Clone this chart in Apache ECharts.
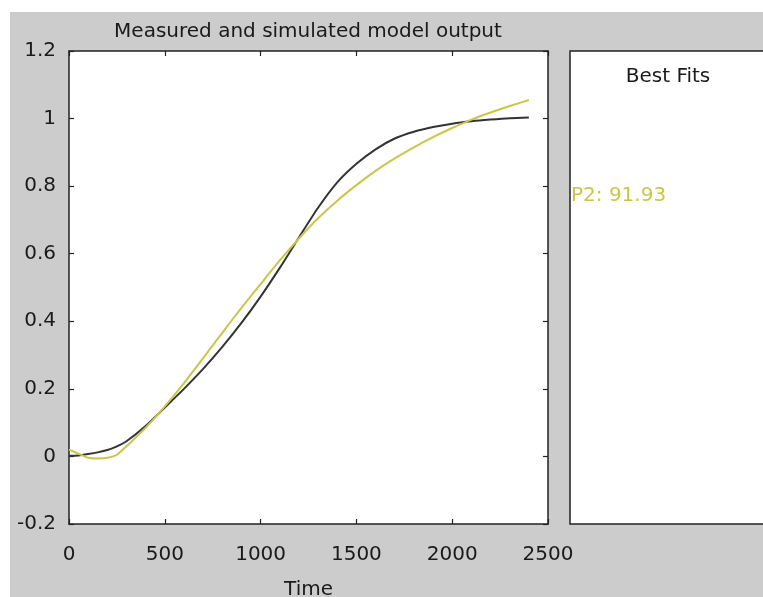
<!DOCTYPE html>
<html>
<head>
<meta charset="utf-8">
<script src="https://cdn.jsdelivr.net/npm/echarts@6/dist/echarts.min.js"></script>
<style>
  html, body { margin: 0; padding: 0; background: #fff; }
  #main { width: 763px; height: 597px; }
</style>
</head>
<body>
<div id="main"></div>
<script>
var timeMeasured = [0, 50, 100, 150, 200, 250, 300, 400, 500, 600, 700, 800, 900, 1000,
  1100, 1200, 1300, 1400, 1500, 1600, 1700, 1800, 1900, 2000, 2100, 2200, 2300, 2400];
var measured = [0.002, 0.003, 0.007, 0.012, 0.019, 0.03, 0.045, 0.09, 0.145, 0.2, 0.259, 0.324, 0.395, 0.473,
  0.558, 0.648, 0.736, 0.811, 0.866, 0.909, 0.941, 0.961, 0.975, 0.985, 0.992, 0.997, 1.001, 1.003];

var timeSimulated = [0, 50, 100, 150, 200, 250, 300, 400, 500, 600, 700, 800, 900, 1000,
  1100, 1200, 1300, 1400, 1500, 1600, 1700, 1800, 1900, 2000, 2100, 2200, 2300, 2400];
var simulated = [0.02, 0.008, -0.004, -0.006, -0.004, 0.005, 0.03, 0.085, 0.148, 0.217, 0.291, 0.366, 0.44, 0.51,
  0.58, 0.645, 0.705, 0.757, 0.803, 0.845, 0.882, 0.915, 0.945, 0.972, 0.997, 1.018, 1.037, 1.055];

var titleText = 'Measured and simulated model output';
var panelTitle = 'Best Fits';
var fitLabel = 'P2: 91.93';

var font = 'DejaVu Sans';
var ink = '#1a1a1a';
var yellow = '#c9c748';

var dom = document.getElementById('main');
var myChart = echarts.init(dom);

function pairs(xs, ys) {
  return xs.map(function (x, i) { return [x, ys[i]]; });
}

var axisLine = { show: true, onZero: false, lineStyle: { color: '#222', width: 1.5 } };
var tickIn = { show: true, inside: true, length: 5, lineStyle: { color: '#222', width: 1.2 } };

option = {
  backgroundColor: '#fff',
  textStyle: { fontFamily: font },
  animation: false,
  grid: [
    { left: 69, right: 215, top: 51, bottom: 73, show: true, backgroundColor: '#fff', borderWidth: 0,
      containLabel: false, outerBoundsMode: 'none' },
    { left: 570, width: 260, top: 51, bottom: 73, show: true, backgroundColor: '#fff',
      borderColor: '#222', borderWidth: 1.5, containLabel: false, outerBoundsMode: 'none' }
  ],
  xAxis: [
    {
      type: 'value', gridIndex: 0, position: 'bottom',
      min: 0, max: 2500, interval: 500,
      name: 'Time', nameLocation: 'middle', nameGap: 56,
      nameTextStyle: { fontFamily: font, fontSize: 20, color: ink },
      axisLine: axisLine, axisTick: tickIn, splitLine: { show: false },
      axisLabel: { fontFamily: font, fontSize: 20, color: ink, margin: 21,
        formatter: function (v) { return String(v); } }
    },
    {
      type: 'value', gridIndex: 0, position: 'top',
      min: 0, max: 2500, interval: 500,
      axisLine: axisLine, axisTick: tickIn, splitLine: { show: false },
      axisLabel: { show: false }
    },
    { type: 'value', gridIndex: 1, show: false, min: 0, max: 1 }
  ],
  yAxis: [
    {
      type: 'value', gridIndex: 0, position: 'left',
      min: -0.2, max: 1.2, interval: 0.2,
      axisLine: axisLine, axisTick: tickIn, splitLine: { show: false },
      axisLabel: { fontFamily: font, fontSize: 20, color: ink, margin: 13 }
    },
    {
      type: 'value', gridIndex: 0, position: 'right',
      min: -0.2, max: 1.2, interval: 0.2,
      axisLine: axisLine, axisTick: tickIn, splitLine: { show: false },
      axisLabel: { show: false }
    },
    { type: 'value', gridIndex: 1, show: false, min: 0, max: 1 }
  ],
  graphic: [
    {
      type: 'rect', z: -10, silent: true,
      shape: { x: 10, y: 12, width: 800, height: 640 },
      style: { fill: '#cccccc' }
    },
    {
      type: 'text', silent: true, x: 308, y: 32,
      style: { text: titleText, font: '20px "DejaVu Sans"', fill: ink,
        align: 'center', verticalAlign: 'middle' }
    },
    {
      type: 'text', silent: true, x: 668, y: 77, z: 10,
      style: { text: panelTitle, font: '20px "DejaVu Sans"', fill: ink,
        align: 'center', verticalAlign: 'middle' }
    },
    {
      type: 'text', silent: true, x: 571, y: 196, z: 10,
      style: { text: fitLabel, font: '20px "DejaVu Sans"', fill: yellow,
        align: 'left', verticalAlign: 'middle' }
    }
  ],
  series: [
    {
      name: 'Measured', type: 'line', xAxisIndex: 0, yAxisIndex: 0,
      data: pairs(timeMeasured, measured),
      smooth: 0.25, showSymbol: false,
      lineStyle: { color: '#333', width: 2 }
    },
    {
      name: 'P2', type: 'line', xAxisIndex: 0, yAxisIndex: 0,
      data: pairs(timeSimulated, simulated),
      smooth: 0.15, showSymbol: false,
      lineStyle: { color: yellow, width: 2 }
    }
  ]
};

if (option && typeof option === 'object') {
  myChart.setOption(option, true);
}
</script>
</body>
</html>
